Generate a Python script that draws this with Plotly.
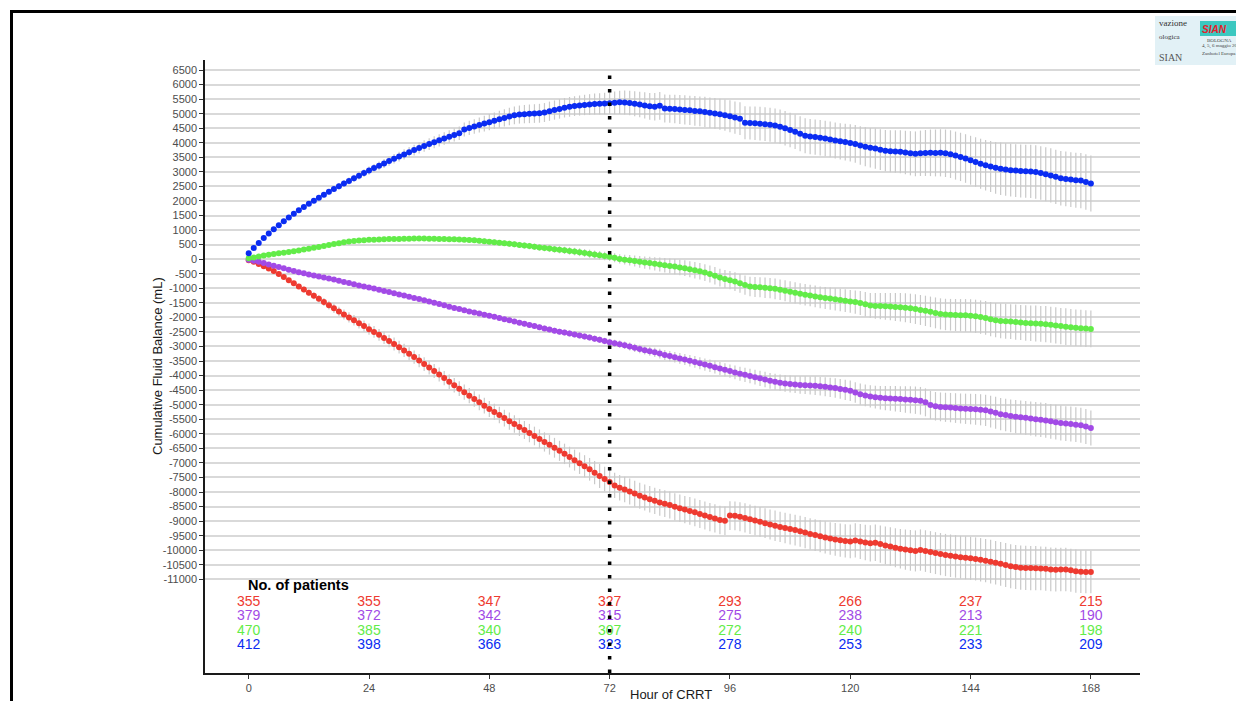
import plotly.graph_objects as go

# Hours of CRRT (hourly observations)
HOURS = list(range(169))

# Mean cumulative fluid balance (mL) per group, hour 0..168
BLUE = [
    200, 385, 560, 725, 880, 1030, 1170, 1305, 1435, 1560, 1680, 1795, 1905, 2010, 2115, 2215, 2315, 2410, 2505, 2600, 2690, 2780, 2870, 2960, 3045,
    3130, 3210, 3290, 3370, 3450, 3525, 3600, 3675, 3750, 3820, 3890, 3955, 4020, 4085, 4150, 4210, 4270, 4330, 4460, 4510, 4560, 4610, 4660, 4710,
    4760, 4810, 4855, 4900, 4945, 4970, 4985, 4995, 5005, 5015, 5040, 5085, 5125, 5165, 5205, 5235, 5260, 5280, 5300, 5315, 5330, 5340, 5350, 5360,
    5375, 5390, 5385, 5370, 5345, 5315, 5285, 5255, 5240, 5270, 5180, 5170, 5160, 5145, 5130, 5115, 5095, 5080, 5060, 5035, 5010, 4980, 4950, 4915,
    4865, 4830, 4690, 4680, 4670, 4655, 4640, 4620, 4590, 4555, 4500, 4440, 4380, 4310, 4240, 4215, 4195, 4175, 4150, 4115, 4080, 4050, 4025, 3995,
    3960, 3905, 3865, 3830, 3800, 3765, 3730, 3710, 3700, 3690, 3665, 3640, 3620, 3640, 3650, 3655, 3650, 3655, 3640, 3610, 3560, 3515, 3460, 3400,
    3340, 3280, 3230, 3185, 3140, 3110, 3080, 3060, 3045, 3030, 3020, 3015, 2995, 2960, 2920, 2880, 2830, 2780, 2760, 2735, 2715, 2700, 2650, 2600,
]
GREEN = [
    30, 60, 95, 125, 150, 175, 200, 225, 250, 275, 300, 330, 360, 390, 420, 455, 490, 520, 550, 580, 605, 625, 640, 655, 665,
    672, 678, 684, 690, 694, 698, 702, 705, 707, 708, 707, 705, 702, 698, 693, 688, 682, 676, 668, 658, 648, 636, 620, 600,
    585, 565, 548, 530, 510, 490, 470, 450, 428, 405, 385, 365, 345, 325, 305, 285, 262, 240, 214, 188, 162, 137, 112, 85,
    50, 10, -15, -40, -65, -90, -115, -135, -160, -180, -205, -230, -255, -285, -310, -345, -380, -415, -460, -510, -570, -630, -680, -720,
    -770, -830, -890, -935, -955, -965, -980, -995, -1020, -1050, -1085, -1120, -1155, -1190, -1225, -1250, -1280, -1310, -1335, -1355, -1380, -1400, -1425, -1450,
    -1475, -1505, -1550, -1590, -1605, -1612, -1620, -1628, -1640, -1655, -1670, -1690, -1715, -1745, -1775, -1810, -1845, -1880, -1900, -1910, -1918, -1925, -1930, -1940,
    -1960, -1990, -2020, -2060, -2095, -2120, -2135, -2145, -2160, -2175, -2190, -2200, -2210, -2220, -2232, -2250, -2275, -2300, -2320, -2340, -2355, -2370, -2385, -2395,
]
PURPLE = [
    -20, -50, -90, -135, -180, -225, -270, -315, -360, -405, -445, -485, -525, -560, -595, -630, -665, -700, -740, -780, -820, -860, -900, -935, -970,
    -1010, -1050, -1090, -1130, -1170, -1210, -1250, -1290, -1330, -1370, -1410, -1450, -1495, -1540, -1585, -1630, -1675, -1715, -1755, -1795, -1835, -1870, -1905, -1945,
    -1980, -2020, -2060, -2100, -2140, -2180, -2220, -2260, -2300, -2340, -2380, -2420, -2455, -2490, -2520, -2550, -2585, -2620, -2655, -2690, -2730, -2770, -2810, -2850,
    -2885, -2920, -2960, -3000, -3045, -3085, -3125, -3160, -3200, -3245, -3290, -3330, -3370, -3410, -3450, -3490, -3530, -3575, -3620, -3665, -3710, -3755, -3800, -3845,
    -3890, -3935, -3975, -4015, -4055, -4095, -4135, -4180, -4215, -4245, -4270, -4290, -4305, -4320, -4330, -4340, -4350, -4365, -4385, -4405, -4430, -4460, -4490, -4520,
    -4580, -4640, -4680, -4715, -4740, -4760, -4775, -4785, -4795, -4808, -4820, -4832, -4845, -4865, -4920, -5010, -5055, -5075, -5090, -5100, -5115, -5130, -5140, -5150,
    -5160, -5175, -5195, -5235, -5280, -5325, -5355, -5385, -5410, -5430, -5450, -5475, -5500, -5520, -5540, -5570, -5600, -5630, -5650, -5665, -5685, -5705, -5750, -5800,
]
RED = [
    -40, -90, -165, -240, -320, -410, -510, -615, -720, -830, -935, -1045, -1150, -1255, -1360, -1470, -1580, -1690, -1795, -1900, -2000, -2100, -2200, -2300, -2405,
    -2500, -2600, -2705, -2810, -2915, -3025, -3135, -3250, -3365, -3485, -3605, -3725, -3845, -3965, -4085, -4210, -4330, -4450, -4570, -4690, -4805, -4920, -5035, -5145,
    -5250, -5355, -5460, -5565, -5665, -5770, -5870, -5975, -6075, -6175, -6280, -6380, -6480, -6585, -6690, -6800, -6905, -7010, -7115, -7220, -7335, -7450, -7555, -7660,
    -7775, -7855, -7915, -7985, -8055, -8130, -8190, -8250, -8305, -8360, -8400, -8450, -8505, -8555, -8605, -8650, -8700, -8755, -8810, -8860, -8910, -8960, -8990, -8810,
    -8820, -8850, -8890, -8935, -8980, -9025, -9070, -9115, -9160, -9200, -9240, -9275, -9310, -9350, -9395, -9440, -9480, -9520, -9560, -9600, -9630, -9655, -9680, -9700,
    -9665, -9700, -9735, -9765, -9745, -9790, -9835, -9875, -9915, -9950, -9980, -10005, -10025, -9995, -10030, -10065, -10100, -10135, -10165, -10190, -10215, -10240, -10260, -10280,
    -10300, -10330, -10360, -10395, -10430, -10470, -10510, -10550, -10580, -10600, -10610, -10615, -10620, -10625, -10640, -10660, -10670, -10665, -10665, -10690, -10720, -10740, -10745, -10750,
]

# Half-length of the error bar (mL) per group, hour 0..168
BLUE_ERR = [
    0, 10, 20, 30, 40, 45, 50, 55, 60, 65, 70, 75, 80, 85, 90, 95, 100, 105, 110, 115, 120, 125, 130, 135, 140,
    145, 150, 155, 160, 165, 170, 175, 180, 185, 190, 195, 200, 205, 210, 215, 220, 225, 230, 240, 245, 250, 260, 270, 280,
    285, 290, 295, 300, 305, 310, 315, 320, 320, 325, 325, 330, 330, 335, 335, 340, 340, 345, 350, 355, 360, 365, 370, 380,
    390, 400, 410, 420, 430, 440, 450, 460, 470, 475, 480, 485, 490, 495, 500, 505, 510, 515, 520, 525, 530, 535, 540, 550,
    555, 560, 565, 570, 575, 580, 580, 585, 585, 590, 590, 595, 595, 600, 600, 605, 605, 610, 610, 615, 620, 625, 630, 640,
    650, 660, 670, 680, 690, 700, 710, 720, 730, 740, 750, 760, 770, 780, 790, 800, 805, 810, 815, 820, 825, 830, 835, 840,
    850, 860, 870, 880, 890, 900, 900, 905, 905, 910, 910, 915, 920, 920, 925, 930, 930, 935, 940, 940, 945, 950, 955, 960,
]
GREEN_ERR = [
    0, 5, 10, 15, 20, 20, 25, 25, 30, 30, 30, 35, 35, 35, 40, 40, 40, 45, 45, 45, 50, 50, 50, 55, 55,
    55, 60, 60, 60, 65, 65, 65, 70, 70, 70, 70, 75, 75, 75, 75, 80, 80, 80, 80, 85, 85, 85, 90, 90,
    90, 95, 95, 100, 100, 105, 105, 110, 110, 115, 115, 120, 120, 125, 125, 130, 130, 135, 135, 140, 140, 145, 145, 150,
    155, 160, 170, 180, 190, 200, 210, 220, 230, 240, 250, 255, 260, 265, 270, 275, 280, 285, 290, 295, 300, 305, 310, 315,
    320, 325, 330, 335, 340, 345, 350, 350, 355, 355, 360, 360, 365, 365, 370, 370, 375, 375, 380, 380, 385, 385, 390, 390,
    400, 410, 420, 430, 440, 450, 460, 470, 480, 490, 500, 505, 510, 515, 520, 525, 530, 535, 540, 545, 550, 555, 560, 565,
    570, 575, 580, 585, 590, 595, 600, 600, 605, 605, 610, 610, 615, 615, 620, 620, 625, 625, 630, 630, 630, 630, 630, 630,
]
PURPLE_ERR = [
    0, 0, 0, 5, 5, 10, 10, 15, 15, 20, 20, 25, 25, 30, 30, 35, 35, 40, 40, 45, 45, 50, 50, 55, 55,
    60, 60, 60, 62, 62, 64, 64, 66, 66, 68, 68, 70, 70, 72, 72, 74, 74, 76, 76, 78, 78, 80, 80, 80,
    82, 84, 86, 88, 90, 92, 94, 95, 96, 97, 98, 99, 100, 100, 101, 102, 103, 104, 105, 106, 108, 110, 112, 115,
    120, 125, 130, 135, 140, 145, 150, 155, 160, 165, 170, 175, 180, 185, 190, 195, 200, 205, 210, 215, 220, 225, 228, 230,
    235, 240, 245, 250, 255, 260, 265, 270, 275, 280, 285, 290, 295, 300, 305, 310, 315, 320, 325, 330, 335, 340, 345, 350,
    355, 365, 375, 385, 395, 405, 415, 425, 435, 445, 455, 465, 470, 475, 480, 485, 490, 495, 500, 505, 510, 515, 520, 525,
    530, 535, 540, 545, 550, 555, 560, 565, 570, 575, 580, 585, 590, 592, 594, 596, 598, 600, 600, 600, 600, 600, 600, 600,
]
RED_ERR = [
    0, 5, 10, 20, 30, 40, 50, 60, 70, 80, 90, 100, 110, 120, 130, 140, 150, 160, 165, 170, 175, 180, 185, 190, 195,
    200, 205, 210, 215, 220, 220, 225, 225, 230, 230, 235, 235, 240, 240, 245, 250, 250, 255, 260, 260, 265, 270, 270, 275,
    280, 285, 290, 295, 300, 305, 310, 315, 320, 325, 330, 335, 340, 345, 350, 355, 360, 370, 380, 390, 400, 410, 420, 430,
    435, 440, 440, 445, 445, 450, 450, 455, 455, 460, 460, 465, 465, 470, 470, 475, 475, 480, 480, 485, 485, 490, 490, 495,
    495, 500, 500, 505, 505, 510, 510, 515, 520, 520, 525, 530, 530, 535, 540, 540, 545, 550, 555, 560, 565, 570, 575, 580,
    590, 600, 610, 620, 630, 640, 650, 660, 670, 680, 690, 700, 705, 710, 715, 720, 720, 725, 725, 730, 730, 735, 735, 740,
    740, 745, 745, 750, 750, 750, 755, 755, 755, 760, 760, 760, 760, 755, 755, 750, 750, 745, 745, 740, 740, 735, 735, 730,
]

# Number of patients at each 24-hour mark
RISK_HOURS = [0, 24, 48, 72, 96, 120, 144, 168]
RISK_RED = [355, 355, 347, 327, 293, 266, 237, 215]
RISK_PURPLE = [379, 372, 342, 315, 275, 238, 213, 190]
RISK_GREEN = [470, 385, 340, 307, 272, 240, 221, 198]
RISK_BLUE = [412, 398, 366, 323, 278, 253, 233, 209]

Y_TICKS = list(range(-11000, 7000, 500))
X_TICKS = [0, 24, 48, 72, 96, 120, 144, 168]

COL_RED = "#ee3a30"
COL_PURPLE = "#a24ae6"
COL_GREEN = "#62ec48"
COL_BLUE = "#0a2cf2"
ERR_COL = "#c9c9c9"
FONT = "Liberation Sans, Arial, sans-serif"

W, H = 1236, 701
ML, MR, MT, MB = 205, 96, 60, 28
PW, PH = W - ML - MR, H - MT - MB


def px_x(p):
    return (p - ML) / PW


def px_y(p):
    return (H - MB - p) / PH


fig = go.Figure()

series = [
    (RED, RED_ERR, COL_RED),
    (PURPLE, PURPLE_ERR, COL_PURPLE),
    (GREEN, GREEN_ERR, COL_GREEN),
    (BLUE, BLUE_ERR, COL_BLUE),
]

# error bars first, so that every group's points sit above them
for vals, err, col in series:
    fig.add_trace(go.Scatter(
        x=HOURS[:len(vals)], y=vals, mode="markers",
        marker=dict(size=1, color="rgba(0,0,0,0)"),
        error_y=dict(type="data", array=err, visible=True, color=ERR_COL,
                     thickness=1.2, width=0),
        hoverinfo="skip", showlegend=False,
    ))

for vals, err, col in series:
    fig.add_trace(go.Scatter(
        x=HOURS[:len(vals)], y=vals, mode="markers",
        marker=dict(size=6, color=col, line=dict(width=0)),
        showlegend=False,
    ))

# number-at-risk table inside the panel, one text trace per row
row_y = [-11800, -12295, -12790, -13285]
for yv, counts, col in zip(row_y, [RISK_RED, RISK_PURPLE, RISK_GREEN, RISK_BLUE],
                           [COL_RED, COL_PURPLE, COL_GREEN, COL_BLUE]):
    fig.add_trace(go.Scatter(
        x=RISK_HOURS, y=[yv] * len(RISK_HOURS), mode="text",
        text=[str(n) for n in counts], textposition="middle center",
        textfont=dict(family=FONT, size=14, color=col),
        hoverinfo="skip", showlegend=False,
    ))

ann = []
ann.append(dict(x=-0.3, y=-11200, xref="x", yref="y", text="<b>No. of patients</b>",
                showarrow=False, xanchor="left", yanchor="middle", borderpad=0,
                font=dict(family=FONT, size=14.5, color="black")))

# axis titles
ann.append(dict(x=px_x(157), y=px_y(366), xref="paper", yref="paper",
                text="Cumulative Fluid Balance (mL)", textangle=-90, showarrow=False,
                xanchor="center", yanchor="middle",
                font=dict(family=FONT, size=13, color="#1a1a1a")))
ann.append(dict(x=px_x(671), y=px_y(694), xref="paper", yref="paper",
                text="Hour of CRRT", showarrow=False,
                xanchor="center", yanchor="middle",
                font=dict(family=FONT, size=13, color="#1a1a1a")))

# conference badge in the top-right corner
badge = [
    ("vazione", 1157, 23, 9, "#333", "left"),
    ("ologica", 1157, 37, 7, "#333", "left"),
    ("SIAN", 1157, 57, 10, "#555", "left"),
    ("BOLOGNA", 1219, 40, 5, "#444", "center"),
    ("4, 5, 6 maggio 20", 1219, 46, 5, "#444", "center"),
    ("Zanhotel Europa", 1219, 54, 5, "#444", "center"),
]
for t, xx, yy, fs, c, anc in badge:
    ann.append(dict(x=px_x(xx), y=px_y(yy), xref="paper", yref="paper", text=t,
                    showarrow=False, xanchor=anc, yanchor="middle",
                    font=dict(family="Liberation Serif, serif", size=fs, color=c)))
ann.append(dict(x=px_x(1214), y=px_y(30), xref="paper", yref="paper", text="<i><b>SIAN</b></i>",
                showarrow=False, xanchor="center", yanchor="middle",
                font=dict(family=FONT, size=10, color="#e8202a")))

shapes = []
# white separators across the grid at the major hour marks
for h in X_TICKS:
    shapes.append(dict(type="line", xref="x", yref="paper", x0=h, x1=h, y0=0, y1=1,
                       line=dict(color="white", width=2.5), layer="between"))
# dotted reference line at 72 h
shapes.append(dict(type="line", xref="x", yref="paper", x0=72, x1=72, y0=0, y1=0.99,
                   line=dict(color="black", width=3.5, dash="3.5px,10px"), layer="above"))
# slide frame
shapes.append(dict(type="line", xref="paper", yref="paper", x0=px_x(11.5), x1=px_x(11.5),
                   y0=px_y(10), y1=px_y(705), line=dict(color="black", width=3)))
shapes.append(dict(type="line", xref="paper", yref="paper", x0=px_x(10), x1=px_x(1240),
                   y0=px_y(11.5), y1=px_y(11.5), line=dict(color="black", width=3)))
# badge background
shapes.append(dict(type="rect", xref="paper", yref="paper", x0=px_x(1155), x1=px_x(1240),
                   y0=px_y(65), y1=px_y(16), fillcolor="#e2f1f6", line=dict(width=0),
                   layer="below"))
shapes.append(dict(type="rect", xref="paper", yref="paper", x0=px_x(1200), x1=px_x(1236),
                   y0=px_y(36), y1=px_y(21), fillcolor="#3cc8c0", line=dict(width=0),
                   layer="below"))

fig.update_layout(
    width=W, height=H,
    margin=dict(l=ML, r=MR, t=MT, b=MB, autoexpand=False),
    paper_bgcolor="white", plot_bgcolor="white",
    showlegend=False,
    annotations=ann, shapes=shapes,
    xaxis=dict(
        range=[-8.72, 177.8], tickvals=X_TICKS, ticktext=[str(v) for v in X_TICKS],
        showgrid=False, zeroline=False, showline=True, linecolor="#1a1a1a", linewidth=1.5,
        ticks="outside", ticklen=4, tickwidth=1, tickcolor="#333", automargin=False,
        tickfont=dict(family=FONT, size=11, color="#4d4d4d"),
    ),
    yaxis=dict(
        range=[-14220, 6845], tickvals=Y_TICKS, ticktext=[str(v) for v in Y_TICKS],
        showgrid=True, gridcolor="#d9d9d9", gridwidth=1.5,
        zeroline=False, showline=True, linecolor="#1a1a1a", linewidth=1.5,
        ticks="outside", ticklen=4, tickwidth=1, tickcolor="#333", automargin=False,
        tickfont=dict(family=FONT, size=11, color="#4d4d4d"),
    ),
)

fig.write_html("out.html")
